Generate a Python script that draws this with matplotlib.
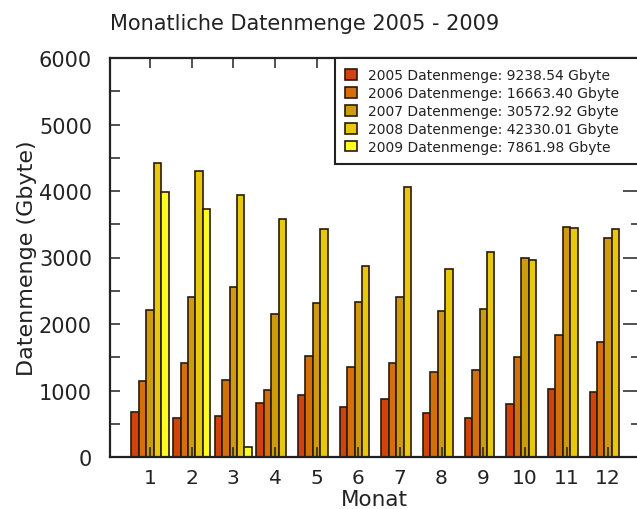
import matplotlib
matplotlib.use('Agg')
import matplotlib.pyplot as plt
import numpy as np

months = [1, 2, 3, 4, 5, 6, 7, 8, 9, 10, 11, 12]
years = ['2005', '2006', '2007', '2008', '2009']
totals = ['9238.54', '16663.40', '30572.92', '42330.01', '7861.98']

y2005 = [680, 590, 615, 815, 935, 750, 865, 660, 585, 800, 1025, 975]
y2006 = [1150, 1415, 1160, 1015, 1525, 1350, 1410, 1275, 1310, 1510, 1835, 1725]
y2007 = [2205, 2405, 2555, 2145, 2320, 2330, 2405, 2195, 2230, 2995, 3460, 3300]
y2008 = [4425, 4300, 3940, 3575, 3425, 2865, 4065, 2830, 3090, 2955, 3450, 3430]
y2009 = [3980, 3730, 150]

colors = ['#d2420c', '#d4700c', '#cc9c0c', '#e8c80c', '#fcfc1e']
series = [y2005, y2006, y2007, y2008, y2009]

plt.rcParams['font.family'] = 'DejaVu Sans'
txt = '#222222'

fig = plt.figure(figsize=(6.37, 5.10), dpi=100)
ax = fig.add_axes([110/637, 1-458/510, 529/637, 399/510])

w = 0.178
x = np.array(months, dtype=float)
for i, vals in enumerate(series):
    xs = x[:len(vals)] + (i - 2) * w
    ax.bar(xs, vals, width=w, color=colors[i], edgecolor='#2a1a0a', linewidth=1.2,
           label=years[i] + ' Datenmenge: ' + totals[i] + ' Gbyte')

ax.set_xlim(0.04, 12.74)
ax.set_ylim(0, 6000)
ax.set_xticks(months)
ax.set_xticklabels([str(m) for m in months])
ax.set_yticks(range(0, 6001, 1000))
ax.set_yticks(range(500, 6000, 1000), minor=True)

for s in ax.spines.values():
    s.set_color(txt)
    s.set_linewidth(1.6)

ax.tick_params(axis='y', which='both', direction='in', length=7.2, width=1.1,
               color=txt, labelsize=15, labelcolor=txt, pad=13, right=False)
ax.tick_params(axis='x', which='both', direction='in', length=7.5, width=1.1,
               color=txt, labelsize=14.5, labelcolor=txt, pad=8, top=True)

# right side ticks (longer majors)
ax2 = ax.twinx()
ax2.set_ylim(0, 6000)
ax2.set_yticks(range(0, 6001, 1000))
ax2.set_yticks(range(500, 6000, 1000), minor=True)
ax2.tick_params(axis='y', which='major', direction='in', length=11.5, width=1.1, color=txt, labelright=False)
ax2.tick_params(axis='y', which='minor', direction='in', length=5.8, width=1.1, color=txt)
for s in ax2.spines.values():
    s.set_visible(False)

ax.set_ylabel('Datenmenge (Gbyte)', fontsize=16, color=txt)
ax.yaxis.set_label_coords(-0.138, 0.5)
ax.set_xlabel('Monat', fontsize=15.5, color=txt, va='top')
ax.xaxis.set_label_coords(0.499, -0.080)

fig.text(305/637, 1-30/510, 'Monatliche Datenmenge 2005 - 2009', fontsize=15,
         color=txt, ha='center', va='baseline')

leg = ax2.legend(*ax.get_legend_handles_labels(), loc='upper left',
                 bbox_to_anchor=((335-110)/529, 0, 1.05 - (335-110)/529, 1.0),
                 mode='expand', borderaxespad=0, fontsize=10, labelspacing=0.28,
                 handlelength=0.8, handleheight=0.8, handletextpad=0.8,
                 borderpad=0.75, fancybox=False, framealpha=1)
leg.get_frame().set_edgecolor(txt)
leg.get_frame().set_linewidth(1.5)
for t in leg.get_texts():
    t.set_color(txt)

fig.savefig('out.png', dpi=100)
